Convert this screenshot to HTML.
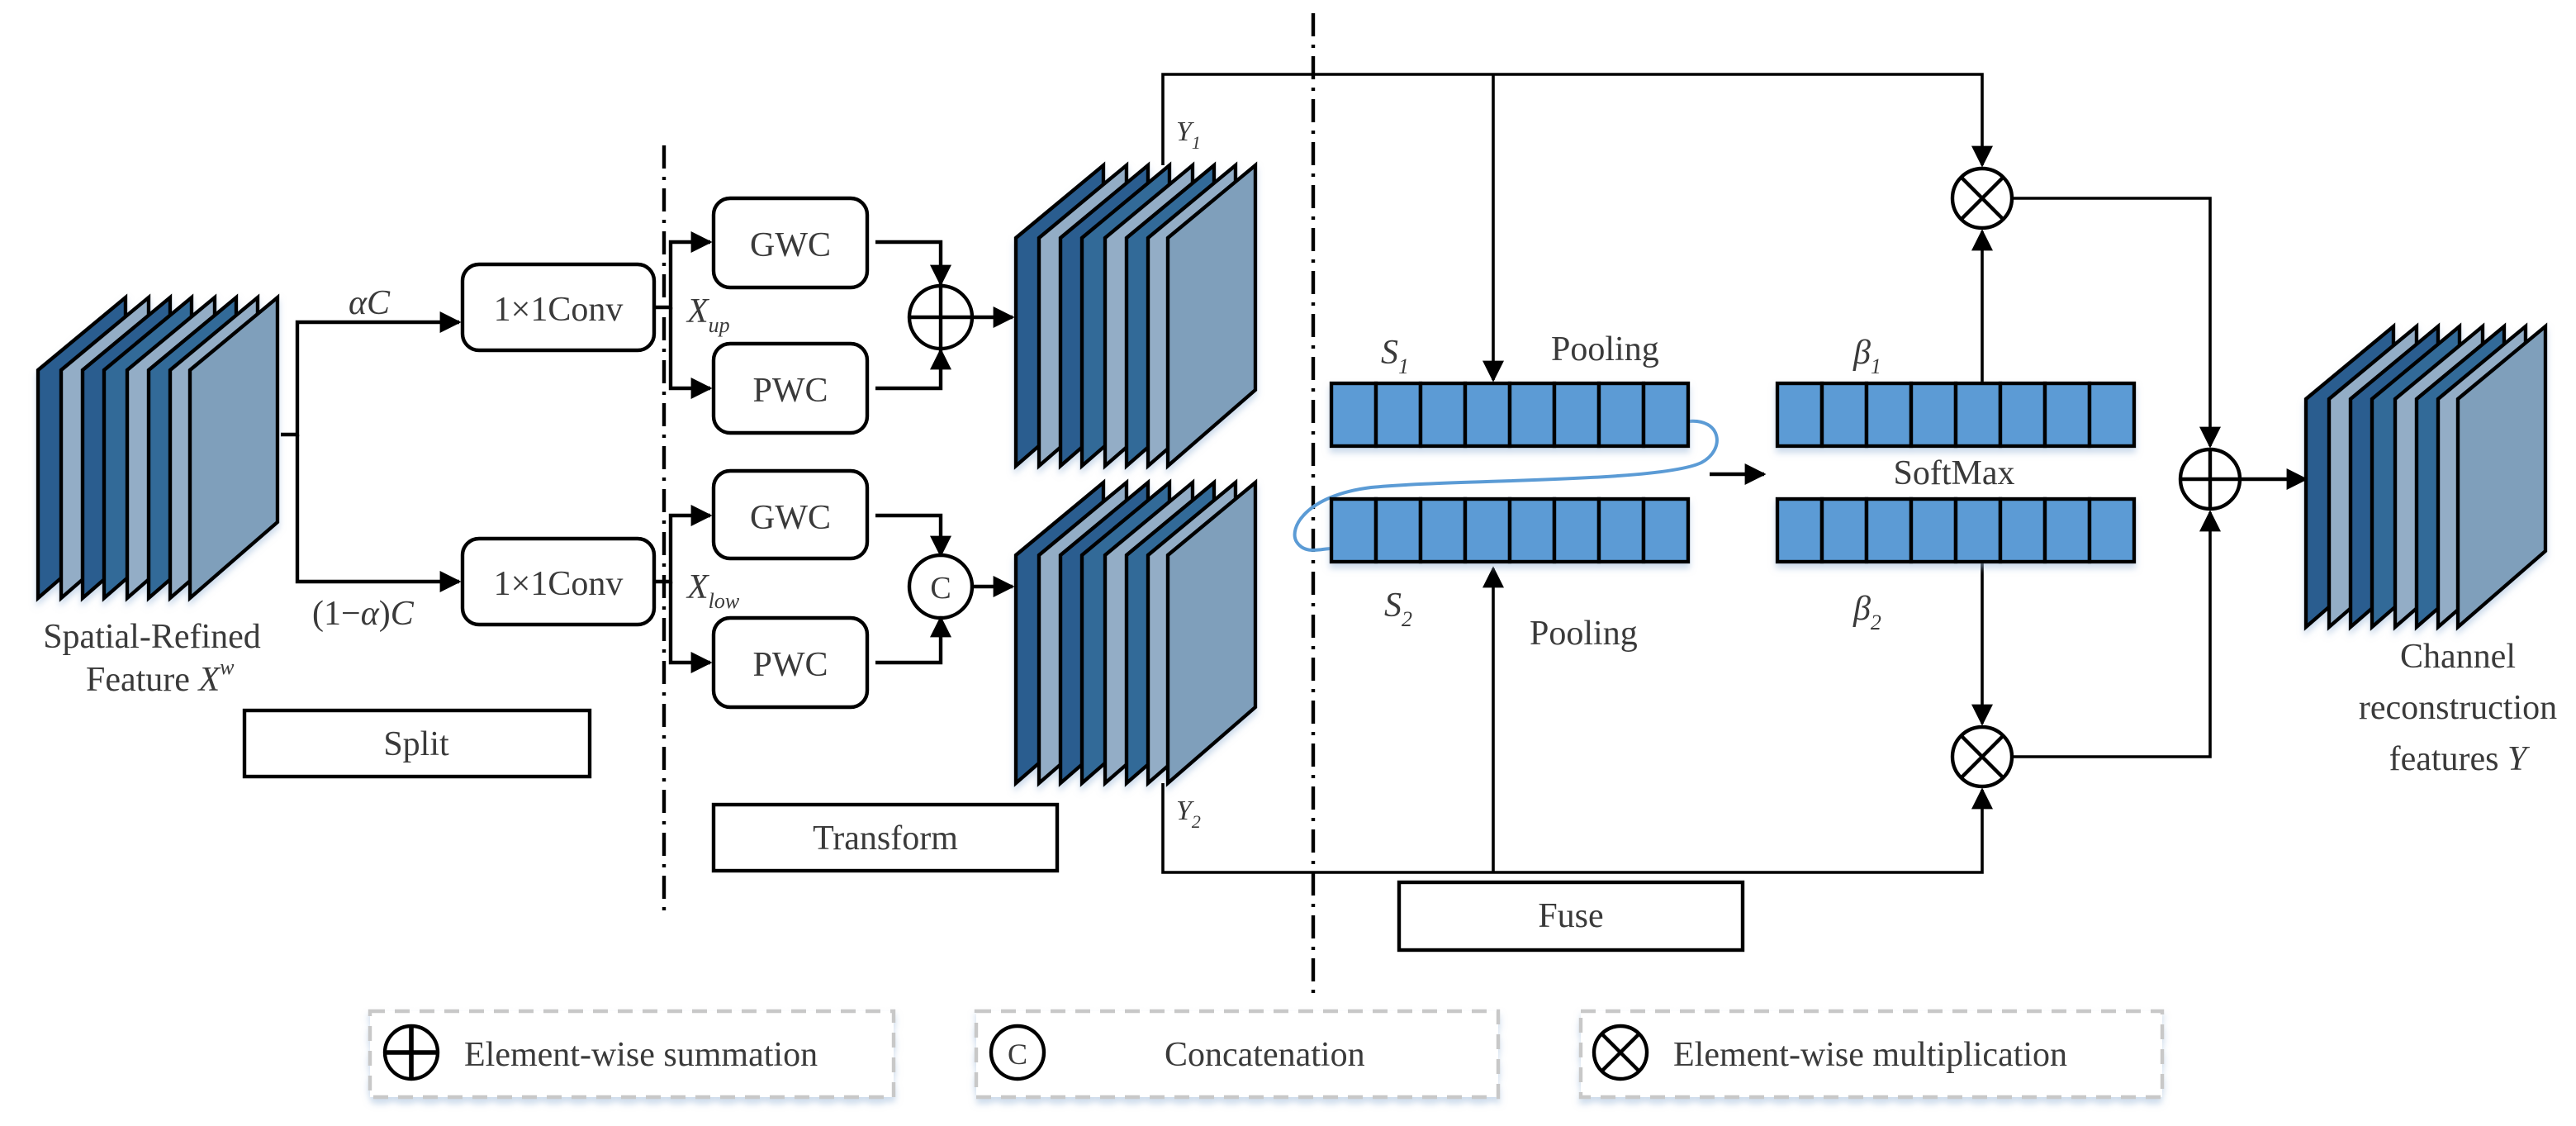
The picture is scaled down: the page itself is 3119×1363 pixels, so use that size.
<!DOCTYPE html>
<html><head><meta charset="utf-8"><style>
html,body{margin:0;padding:0;background:#fff;}
svg{display:block;}
svg text{font-family:"Liberation Serif","Times New Roman",Times,serif;fill:#3a3a3a;}
</style></head><body>
<svg width="3119" height="1363" viewBox="0 0 1559.5 681.5" xmlns="http://www.w3.org/2000/svg" font-family="Liberation Serif, Times New Roman, serif">
<defs>
<marker id="ah" viewBox="0 0 10 10" refX="9" refY="5" markerWidth="11" markerHeight="11" markerUnits="userSpaceOnUse" orient="auto">
<path d="M0,0 L10,5 L0,10 Z" fill="#000"/></marker>
<marker id="ab" viewBox="0 0 10 10" refX="9" refY="5" markerWidth="13" markerHeight="13" markerUnits="userSpaceOnUse" orient="auto">
<path d="M0,0 L10,5 L0,10 Z" fill="#000"/></marker>
<filter id="sh" x="-10%" y="-10%" width="130%" height="130%"><feDropShadow dx="0" dy="3" stdDeviation="2" flood-color="#9bb8d8" flood-opacity="0.5"/></filter>
</defs>

<g stroke="#000" stroke-width="2.2" stroke-linejoin="miter" filter="url(#sh)">
<g id="stk">
<path d="M23,224 L76,180 L76,316 L23,362 Z" fill="#2a5d8f"/>
<path d="M37,224 L90,180 L90,316 L37,362 Z" fill="#93adc6"/>
<path d="M50,224 L103,180 L103,316 L50,362 Z" fill="#2a5d8f"/>
<path d="M63,224 L116,180 L116,316 L63,362 Z" fill="#336a98"/>
<path d="M77,224 L130,180 L130,316 L77,362 Z" fill="#93adc6"/>
<path d="M90,224 L143,180 L143,316 L90,362 Z" fill="#336a98"/>
<path d="M103,224 L156,180 L156,316 L103,362 Z" fill="#93adc6"/>
<path d="M115,224 L168,180 L168,316 L115,362 Z" fill="#7f9fbb"/>
</g>
<g transform="translate(592,-80)"><use href="#stk"/></g>
<g transform="translate(592,112)"><use href="#stk"/></g>
<g transform="translate(1373,17.5)"><use href="#stk"/></g>
</g>

<g fill="none" stroke="#000" stroke-width="2.2">
<path d="M170,263 H180 V195 H278" marker-end="url(#ab)"/>
<path d="M180,263 V352 H278" marker-end="url(#ab)"/>
<rect x="280" y="160" width="116" height="52" rx="10"/>
<rect x="280" y="326" width="116" height="52" rx="10"/>
<path d="M396,186 H406 V146.5 H430" marker-end="url(#ab)"/>
<path d="M406,186 V235 H430" marker-end="url(#ab)"/>
<path d="M396,352 H406 V312 H430" marker-end="url(#ab)"/>
<path d="M406,352 V401 H430" marker-end="url(#ab)"/>
<rect x="432" y="120" width="93" height="54" rx="10"/>
<rect x="432" y="208" width="93" height="54" rx="10"/>
<rect x="432" y="285" width="93" height="53" rx="10"/>
<rect x="432" y="374" width="93" height="54" rx="10"/>
<path d="M530,146.5 H569.5 V172" marker-end="url(#ab)"/>
<path d="M530,235 H569.5 V212" marker-end="url(#ab)"/>
<path d="M530,312 H569.5 V336" marker-end="url(#ab)"/>
<path d="M530,401 H569.5 V374" marker-end="url(#ab)"/>
<ellipse cx="569.5" cy="192" rx="19" ry="19"/>
<path d="M550.5,192 H588.5 M569.5,173 V211"/>
<ellipse cx="569.5" cy="355" rx="19" ry="19"/>
<path d="M589,192 H613" marker-end="url(#ab)"/>
<path d="M589,355 H613" marker-end="url(#ab)"/>
<path d="M402,88 V555" stroke-dasharray="14,5,2,5"/>
<path d="M795,8 V602" stroke-dasharray="14,5,2,5"/>
<path d="M704,100 V45 H1200 V100" stroke-width="1.8" marker-end="url(#ab)"/>
<path d="M904,45 V230" stroke-width="1.8" marker-end="url(#ab)"/>
<path d="M704,474 V528 H1200 V478" stroke-width="1.8" marker-end="url(#ab)"/>
<path d="M904,528 V344" stroke-width="1.8" marker-end="url(#ab)"/>
<path d="M1035,287 H1068" marker-end="url(#ab)"/>
<path d="M1200,232 V140" stroke-width="1.8" marker-end="url(#ab)"/>
<path d="M1200,340 V438" stroke-width="1.8" marker-end="url(#ab)"/>
<ellipse cx="1200" cy="120" rx="18" ry="18"/>
<path d="M1187.3,107.3 L1212.7,132.7 M1212.7,107.3 L1187.3,132.7"/>
<ellipse cx="1200" cy="458" rx="18" ry="18"/>
<path d="M1187.3,445.3 L1212.7,470.7 M1212.7,445.3 L1187.3,470.7"/>
<path d="M1218,120 H1338 V270" stroke-width="1.8" marker-end="url(#ab)"/>
<path d="M1218,458 H1338 V310" stroke-width="1.8" marker-end="url(#ab)"/>
<ellipse cx="1338" cy="290" rx="18" ry="18"/>
<path d="M1320,290 H1356 M1338,272 V308"/>
<path d="M1356,290 H1396" marker-end="url(#ab)"/>
<rect x="148" y="430" width="209" height="40"/>
<rect x="432" y="487" width="208" height="40"/>
<rect x="847" y="534" width="208" height="41"/>
<path d="M1022,255 C1042,253 1045,272 1030,280 C1005,292 880,290 830,295 C790,300 780,320 785,328 C790,336 800,332 806,332" stroke="#5b9bd5" stroke-width="2"/>
</g>

<g stroke="#000" stroke-width="2.2" fill="#5b9bd5" filter="url(#sh)">
<g id="bar">
<rect x="806" y="232" width="27" height="38"/><rect x="833" y="232" width="27" height="38"/>
<rect x="860" y="232" width="27" height="38"/><rect x="887" y="232" width="27" height="38"/>
<rect x="914" y="232" width="27" height="38"/><rect x="941" y="232" width="27" height="38"/>
<rect x="968" y="232" width="27" height="38"/><rect x="995" y="232" width="27" height="38"/>
</g>
<use href="#bar" transform="translate(0,70)"/>
<use href="#bar" transform="translate(270,0)"/>
<use href="#bar" transform="translate(270,70)"/>
</g>

<g font-size="21">
<text x="92" y="392" text-anchor="middle">Spatial-Refined</text>
<text x="52" y="418">Feature <tspan font-style="italic">X</tspan><tspan font-style="italic" font-size="13" dy="-10">w</tspan></text>
<text x="211" y="190" font-style="italic">αC</text>
<text x="189" y="378">(1−<tspan font-style="italic">α</tspan>)<tspan font-style="italic">C</tspan></text>
<text x="338" y="194" text-anchor="middle">1×1Conv</text>
<text x="338" y="360" text-anchor="middle">1×1Conv</text>
<text x="478.5" y="155" text-anchor="middle">GWC</text>
<text x="478.5" y="243" text-anchor="middle">PWC</text>
<text x="478.5" y="320" text-anchor="middle">GWC</text>
<text x="478.5" y="409" text-anchor="middle">PWC</text>
<text x="569.5" y="362" text-anchor="middle" font-size="19">C</text>
<text x="416" y="195" font-style="italic">X<tspan font-size="13" dy="6">up</tspan></text>
<text x="416" y="362" font-style="italic">X<tspan font-size="13" dy="6">low</tspan></text>
<text x="252" y="457" text-anchor="middle">Split</text>
<text x="536" y="514" text-anchor="middle">Transform</text>
<text x="951" y="561" text-anchor="middle">Fuse</text>
<text x="712" y="85" font-style="italic" font-size="17">Y<tspan font-size="11" dy="5">1</tspan></text>
<text x="712" y="496" font-style="italic" font-size="17">Y<tspan font-size="11" dy="5">2</tspan></text>
<text x="836" y="220" font-style="italic">S<tspan font-size="13" dy="6">1</tspan></text>
<text x="838" y="373" font-style="italic">S<tspan font-size="13" dy="6">2</tspan></text>
<text x="939" y="218">Pooling</text>
<text x="926" y="390">Pooling</text>
<text x="1122" y="220" font-style="italic">β<tspan font-size="13" dy="6">1</tspan></text>
<text x="1122" y="375" font-style="italic">β<tspan font-size="13" dy="6">2</tspan></text>
<text x="1183" y="293" text-anchor="middle">SoftMax</text>
<text x="1488" y="404" text-anchor="middle">Channel</text>
<text x="1488" y="435" text-anchor="middle">reconstruction</text>
<text x="1488" y="466" text-anchor="middle">features <tspan font-style="italic">Y</tspan></text>
</g>

<g fill="#fff" stroke="#c8c8c8" stroke-width="2.2" stroke-dasharray="9,6" filter="url(#sh)">
<rect x="224" y="612" width="317" height="52"/>
<rect x="591" y="612" width="316" height="52"/>
<rect x="957" y="612" width="352" height="52"/>
</g>
<g fill="none" stroke="#000" stroke-width="2.2">
<circle cx="249" cy="637" r="16"/><path d="M233,637 H265 M249,621 V653" stroke-width="2.8"/>
<circle cx="616" cy="637" r="16"/>
<circle cx="981" cy="637" r="16"/><path d="M969.7,625.7 L992.3,648.3 M992.3,625.7 L969.7,648.3"/>
</g>
<g font-size="21">
<text x="281" y="645">Element-wise summation</text>
<text x="616" y="644" text-anchor="middle" font-size="18">C</text>
<text x="705" y="645">Concatenation</text>
<text x="1013" y="645">Element-wise multiplication</text>
</g>
</svg>
</body></html>
